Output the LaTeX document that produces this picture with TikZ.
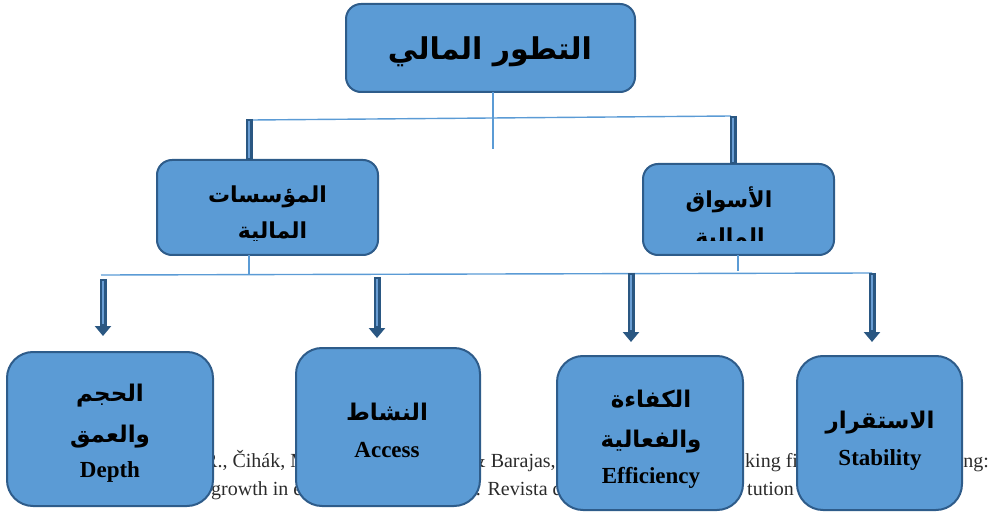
\documentclass[tikz,border=0pt]{standalone}
\usepackage{fontspec}
\setmainfont{Liberation Serif}
\newfontfamily\ar[Script=Arabic]{DejaVu Sans}
\TeXXeTstate=1
\usetikzlibrary{arrows.meta}
\definecolor{boxfill}{HTML}{5B9BD5}
\definecolor{boxline}{HTML}{2E5C8A}
\definecolor{connc}{HTML}{5B9BD5}
\definecolor{arrdark}{HTML}{2A5782}
\definecolor{arrlight}{HTML}{6A9ED4}
\definecolor{citegray}{HTML}{2B2B2B}
\tikzset{
  boxstyle/.style={draw=boxline, fill=boxfill, line width=2pt, rounded corners=#1, inner sep=0pt, outer sep=0pt},
  conn/.style={draw=connc, line width=1.4pt},
  barouter/.style={draw=arrdark, line width=7pt},
  barinner/.style={draw=arrlight, line width=1.5pt},
  arrouter/.style={draw=arrdark, fill=arrdark, line width=7pt, -{Triangle[width=16pt,length=10pt]}},
  citetext/.style={font=\fontsize{20}{24}\selectfont, text=citegray, inner sep=0pt},
  artop/.style={font=\ar\bfseries\fontsize{30}{36}\selectfont, inner sep=0pt, anchor=base},
  armid/.style={font=\ar\bfseries\fontsize{22}{26}\selectfont, inner sep=0pt, anchor=base},
  arbot/.style={font=\ar\bfseries\fontsize{23}{28}\selectfont, inner sep=0pt, anchor=base},
  entext/.style={font=\bfseries\fontsize{23}{28}\selectfont, inner sep=0pt, anchor=base},
}
\begin{document}
\begin{tikzpicture}[x=1pt,y=-1pt]
\useasboundingbox (0,0) rectangle (991,513);

% background citation (partly hidden by boxes)
\node[citetext, anchor=base west] (c1) at (204,467) {R., Čihák, M.};
\node[citetext, anchor=base west] (c2) at (470,467) {\& Barajas, A.};
\node[citetext, anchor=base west] (c3) at (745,467) {king fi};
\node[citetext, anchor=base east] (c4) at (989,467) {ng:};
\node[citetext, anchor=base west] (c5) at (211,495) {growth in emerging};
\node[citetext, anchor=base west] (c6) at (468,495) {s. Revista de};
\node[citetext, anchor=base west] (c7) at (747,495) {tution};

% boxes
\node[boxstyle=15pt, minimum width=289pt, minimum height=88pt] (top) at (490.5,48) {};
\node[boxstyle=15pt, minimum width=221pt, minimum height=95pt] (inst) at (267.5,207.5) {};
\node[boxstyle=15pt, minimum width=191pt, minimum height=91pt] (mkt) at (738.5,209.5) {};
\node[boxstyle=26pt, minimum width=206pt, minimum height=154pt] (b1) at (110,429) {};
\node[boxstyle=26pt, minimum width=184pt, minimum height=158pt] (b2) at (388,427) {};
\node[boxstyle=26pt, minimum width=186pt, minimum height=154pt] (b3) at (650,433) {};
\node[boxstyle=26pt, minimum width=165pt, minimum height=154pt] (b4) at (879.5,433) {};

% connector points
\coordinate (tDrop) at (493,149);
\coordinate (hL) at (252,120);
\coordinate (hR) at (731,116);
\coordinate (barL) at (249,119);
\coordinate (barR) at (733,116);
\coordinate (iDrop) at (249,275);
\coordinate (mDrop) at (738,271);
\coordinate (lL) at (101,275);
\coordinate (lR) at (872,273);
\coordinate (a1s) at (103,279); \coordinate (a1e) at (103,336);
\coordinate (a2s) at (377,277); \coordinate (a2e) at (377,338);
\coordinate (a3s) at (631,273); \coordinate (a3e) at (631,342);
\coordinate (a4s) at (872,273); \coordinate (a4e) at (872,342);

% connectors
\draw[conn] (top.south -| tDrop) -- (tDrop);
\draw[conn] (hL) -- (hR);
\draw[barouter] (barL) -- (inst.north -| barL);
\draw[barinner] ([yshift=-2pt]barL) -- ([yshift=2pt]inst.north -| barL);
\draw[barouter] (barR) -- (mkt.north -| barR);
\draw[barinner] ([yshift=-2pt]barR) -- ([yshift=2pt]mkt.north -| barR);
\draw[conn] (inst.south -| iDrop) -- (iDrop);
\draw[conn] (mkt.south -| mDrop) -- (mDrop);
\draw[conn] (lL) -- (lR);
\foreach \s/\e in {a1s/a1e,a2s/a2e,a3s/a3e,a4s/a4e}{
  \draw[arrouter] (\s) -- (\e);
  \draw[barinner] ([yshift=-2pt]\s) -- ([yshift=12pt]\e);
}

% texts
\node[artop] (tTop) at (490,60) {\beginR التطور المالي\endR};
\node[armid] (tInst1) at (267.5,203) {\beginR المؤسسات\endR};
\begin{scope}
  \clip (157,160) rectangle (378,241);
  \node[armid] (tInst2) at (272.5,239) {\beginR المالية\endR};
\end{scope}
\node[armid] (tMkt1) at (729,208) {\beginR الأسواق\endR};
\begin{scope}
  \clip (643,164) rectangle (834,241);
  \node[armid] (tMkt2) at (730,245) {\beginR المالية\endR};
\end{scope}

\node[arbot] (tB1a) at (110,401) {\beginR الحجم\endR};
\node[arbot] (tB1b) at (110,442) {\beginR والعمق\endR};
\node[entext] (tB1c) at (110,477) {Depth};

\node[arbot] (tB2a) at (387,420) {\beginR النشاط\endR};
\node[entext] (tB2b) at (387,457) {Access};

\node[arbot] (tB3a) at (651,407) {\beginR الكفاءة\endR};
\node[arbot] (tB3b) at (651,447) {\beginR والفعالية\endR};
\node[entext] (tB3c) at (651,483) {Efficiency};

\node[arbot] (tB4a) at (880,428) {\beginR الاستقرار\endR};
\node[entext] (tB4b) at (880,465) {Stability};
\end{tikzpicture}
\end{document}
